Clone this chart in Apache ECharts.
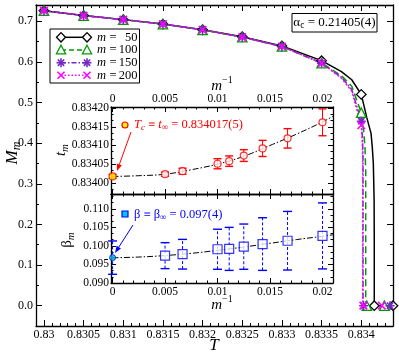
<!DOCTYPE html>
<html>
<head>
<meta charset="utf-8">
<script src="https://cdn.jsdelivr.net/npm/echarts@6/dist/echarts.min.js"></script>
<style>
html, body { margin: 0; padding: 0; background: #fff; }
#chart { width: 399px; height: 353px; }
</style>
</head>
<body>
<div id="chart"></div>
<script>
const FONT = '"Liberation Serif", "DejaVu Serif", serif';
const GREEN = '#009a00';
const PURPLE = '#7428c4';
const MAGENTA = '#ff00ff';

// main panel: M_m(T), marker flags say which points carry a symbol
const T50 = [0.83, 0.8305, 0.831, 0.8315, 0.832, 0.8325, 0.833, 0.8335, 0.83375, 0.83388, 0.834, 0.834068, 0.834123, 0.834139, 0.834152, 0.834162, 0.834164, 0.834164, 0.8344];
const M50 = [0.726, 0.714, 0.704, 0.693, 0.679, 0.662, 0.639, 0.603, 0.576, 0.556, 0.520, 0.464, 0.424, 0.390, 0.350, 0.260, 0.150, 0, 0];
const K50 = [1, 1, 1, 1, 1, 1, 1, 1, 0, 0, 1, 0, 0, 0, 0, 0, 0, 1, 1];

const T100 = [0.83, 0.8305, 0.831, 0.8315, 0.832, 0.8325, 0.833, 0.8335, 0.83375, 0.83388, 0.834, 0.834026, 0.834047, 0.834056, 0.834056, 0.83407, 0.834291, 0.8344];
const M100 = [0.726, 0.714, 0.704, 0.693, 0.679, 0.661, 0.638, 0.597, 0.566, 0.540, 0.475, 0.440, 0.390, 0.330, 0, 0, 0, 0];
const K100 = [1, 1, 1, 1, 1, 1, 1, 1, 0, 0, 1, 0, 0, 0, 0, 1, 1, 0];

const T150 = [0.83, 0.8305, 0.831, 0.8315, 0.832, 0.8325, 0.833, 0.8335, 0.83375, 0.83388, 0.834, 0.834016, 0.834022, 0.834022, 0.83403, 0.834362, 0.8344];
const M150 = [0.726, 0.714, 0.704, 0.693, 0.679, 0.661, 0.638, 0.597, 0.562, 0.532, 0.454, 0.410, 0.360, 0, 0, 0, 0];
const K150 = [1, 1, 1, 1, 1, 1, 1, 1, 0, 0, 1, 0, 0, 0, 1, 1, 0];

const T200 = [0.83, 0.8305, 0.831, 0.8315, 0.832, 0.8325, 0.833, 0.8335, 0.83375, 0.83388, 0.834, 0.834012, 0.834018, 0.834018, 0.834026, 0.834258, 0.8344];
const M200 = [0.726, 0.714, 0.704, 0.693, 0.679, 0.661, 0.638, 0.597, 0.560, 0.528, 0.444, 0.410, 0.360, 0, 0, 0, 0];
const K200 = [1, 1, 1, 1, 1, 1, 1, 1, 0, 0, 1, 0, 0, 0, 1, 1, 0];

// insets: finite-m estimates vs 1/m
const invM = [0.005, 0.006667, 0.01, 0.01111, 0.0125, 0.01429, 0.01667, 0.02];
const tM = [0.834023, 0.834031, 0.834051, 0.834058, 0.834073, 0.834092, 0.834119, 0.834162];
const tErr = [0.0000054, 0.000008, 0.0000135, 0.000014, 0.0000157, 0.0000216, 0.000026, 0.000036];
const tInf = 0.834017, tInfErr = 0.000005;
const betaM = [0.09738, 0.09776, 0.0991, 0.0992, 0.0998, 0.1005, 0.1014, 0.1027];
const betaErr = [0.0035, 0.004, 0.0054, 0.0058, 0.0061, 0.0071, 0.0079, 0.0089];
const betaInf = 0.09684, betaInfErr = 0.0045;
const fitX = [0, 0.0025, 0.005, 0.0075, 0.01, 0.0125, 0.015, 0.0175, 0.02, 0.021];
const fitT = [0.834017, 0.834019, 0.834023, 0.834035, 0.834050, 0.834071, 0.834100, 0.834130, 0.834163, 0.834178];
const fitB = [0.0968, 0.0970, 0.0974, 0.0980, 0.0988, 0.0997, 0.1007, 0.1017, 0.1026, 0.1030];

const near = (v, step) => Math.abs(v / step - Math.round(v / step)) < 1e-6;
const fmtMainX = v => near(v, 0.0005) ? String(+v.toFixed(4)) : '';
const fmtMainY = v => near(v, 0.1) ? v.toFixed(1) : '';
const fmtInv = v => (near(v, 0.005) && v > -1e-9) ? String(+v.toFixed(3)) : '';
const fmtT = v => near(v, 0.00005) ? v.toFixed(5) : '';
const fmtB = v => near(v, 0.005) ? v.toFixed(3) : '';

function mkAxis(o) {
  return {
    type: 'value', gridIndex: o.grid, position: o.pos, min: o.min, max: o.max, splitNumber: o.split,
    axisLine: { show: true, onZero: false, lineStyle: { color: '#000', width: 1.3 } },
    axisTick: { show: true, inside: true, length: o.tick, lineStyle: { color: '#000', width: 1 } },
    minorTick: { show: true, splitNumber: o.minor, length: o.tick / 2, lineStyle: { color: '#000', width: 1 } },
    splitLine: { show: false },
    minorSplitLine: { show: false },
    axisLabel: o.fmt ? { show: true, formatter: o.fmt, margin: o.margin, color: '#000', fontFamily: FONT, fontSize: o.fs } : { show: false }
  };
}

const STAR = 'path://M5 0L5 10M0 5L10 5M1.6 1.6L8.4 8.4M8.4 1.6L1.6 8.4';
const CROSS = 'path://M0 0L10 10M10 0L0 10';

function mainSeries(T, M, K, sym, size, item, line) {
  return {
    type: 'line', xAxisIndex: 0, yAxisIndex: 0, z: 3,
    data: T.map((t, k) => ({ value: [t, M[k]], symbol: K[k] ? sym : 'none' })),
    symbol: sym, symbolSize: size, showSymbol: true,
    itemStyle: item, lineStyle: line
  };
}

function errSeries(xs, ys, es, xi, yi, color, dashed, hw) {
  return {
    type: 'custom', xAxisIndex: xi, yAxisIndex: yi, z: 3,
    data: xs.map((x, k) => [x, ys[k] - es[k], ys[k] + es[k]]),
    renderItem(params, api) {
      const lo = api.coord([api.value(0), api.value(1)]);
      const hi = api.coord([api.value(0), api.value(2)]);
      return {
        type: 'group', children: [
          { type: 'line', shape: { x1: lo[0], y1: lo[1], x2: hi[0], y2: hi[1] }, style: { stroke: color, lineWidth: 1, lineDash: dashed ? [3, 2] : null } },
          { type: 'line', shape: { x1: lo[0] - hw, y1: lo[1], x2: lo[0] + hw, y2: lo[1] }, style: { stroke: color, lineWidth: 1.4 } },
          { type: 'line', shape: { x1: hi[0] - hw, y1: hi[1], x2: hi[0] + hw, y2: hi[1] }, style: { stroke: color, lineWidth: 1.4 } }
        ]
      };
    }
  };
}

// text made of several pieces (sub/superscripts), measured with a canvas
const mctx = document.createElement('canvas').getContext('2d');
const fontOf = p => (p.i ? 'italic ' : '') + p.s + 'px ' + FONT;
function piecesText(x, y, parts, opt) {
  opt = opt || {};
  let w = 0;
  const ws = parts.map(p => { mctx.font = fontOf(p); const m = mctx.measureText(p.t).width; w += m; return m; });
  let cx = opt.left ? 0 : -w / 2;
  const children = parts.map((p, k) => {
    const el = {
      type: 'text', x: cx, y: p.dy || 0, z: 100,
      style: { text: p.t, font: fontOf(p), fill: opt.color || '#000', align: 'left', textAlign: 'left', verticalAlign: 'middle', textVerticalAlign: 'middle' }
    };
    cx += ws[k];
    return el;
  });
  return { type: 'group', x: x, y: y, rotation: opt.rot || 0, z: 100, children: children };
}

function txt(x, y, text, size, opts) {
  opts = opts || {};
  return {
    type: 'text', x: x, y: y, z: 100,
    style: { text: text, font: (opts.italic ? 'italic ' : '') + size + 'px ' + FONT, fill: opts.color || '#000', align: opts.align || 'center', textAlign: opts.align || 'center', verticalAlign: 'middle', textVerticalAlign: 'middle' }
  };
}

function marker(kind, cx, cy, color) {
  const s = { stroke: color, lineWidth: 1.3, fill: '#fff' };
  if (kind === 'diamond') return [{ type: 'polygon', z: 101, shape: { points: [[cx, cy - 4.7], [cx + 4.5, cy], [cx, cy + 4.7], [cx - 4.5, cy]] }, style: s }];
  if (kind === 'triangle') return [{ type: 'polygon', z: 101, shape: { points: [[cx, cy - 4.8], [cx + 4.6, cy + 3.8], [cx - 4.6, cy + 3.8]] }, style: s }];
  const segs = kind === 'star'
    ? [[0, -4.5, 0, 4.5], [-4.5, 0, 4.5, 0], [-3.2, -3.2, 3.2, 3.2], [3.2, -3.2, -3.2, 3.2]]
    : [[-3.5, -3.5, 3.5, 3.5], [3.5, -3.5, -3.5, 3.5]];
  return segs.map(q => ({ type: 'line', z: 101, shape: { x1: cx + q[0], y1: cy + q[1], x2: cx + q[2], y2: cy + q[3] }, style: { stroke: color, lineWidth: 1.6 } }));
}

function arrow(x1, y1, x2, y2, color) {
  const dx = x2 - x1, dy = y2 - y1, L = Math.hypot(dx, dy);
  const ux = dx / L, uy = dy / L, nx = -uy, ny = ux;
  const bx = x2 - 7 * ux, by = y2 - 7 * uy;
  return [
    { type: 'line', z: 100, shape: { x1: x1, y1: y1, x2: bx, y2: by }, style: { stroke: color, lineWidth: 1 } },
    { type: 'polygon', z: 100, shape: { points: [[x2, y2], [bx + 2.6 * nx, by + 2.6 * ny], [bx - 2.6 * nx, by - 2.6 * ny]] }, style: { fill: color } }
  ];
}

const legendRows = [
  { y: 37.3, color: '#000', dash: null, kind: 'diamond', label: '50' },
  { y: 50, color: GREEN, dash: [5, 3], kind: 'triangle', label: '100' },
  { y: 62.7, color: PURPLE, dash: [5, 2, 1.5, 2], kind: 'star', label: '150' },
  { y: 75.3, color: MAGENTA, dash: [1.5, 2], kind: 'cross', label: '200' }
];

const graphics = [];
graphics.push({ type: 'rect', z: 99, shape: { x: 50, y: 29, width: 89.5, height: 54 }, style: { fill: '#fff', stroke: '#000', lineWidth: 1 } });
legendRows.forEach(r => {
  graphics.push({ type: 'line', z: 100, shape: { x1: 61, y1: r.y, x2: 87, y2: r.y }, style: { stroke: r.color, lineWidth: 1.5, lineDash: r.dash } });
  marker(r.kind, 61, r.y, r.color).forEach(e => graphics.push(e));
  marker(r.kind, 87, r.y, r.color).forEach(e => graphics.push(e));
  graphics.push(txt(97, r.y, 'm', 12.5, { italic: true, align: 'left' }));
  graphics.push(txt(113, r.y, '=', 12.5));
  graphics.push(txt(137.5, r.y, r.label, 12.5, { align: 'right' }));
});
graphics.push({ type: 'rect', z: 99, shape: { x: 292, y: 13.5, width: 85, height: 18.5 }, style: { fill: '#fff', stroke: '#000', lineWidth: 1 } });
graphics.push(piecesText(334.5, 22.5, [{ t: 'α', s: 13 }, { t: 'c', s: 9.5, dy: 3 }, { t: ' = 0.21405(4)', s: 13 }]));

// axis titles
graphics.push(piecesText(13, 153, [{ t: 'M', s: 17, i: 1 }, { t: 'm', s: 12, i: 1, dy: 4 }], { rot: Math.PI / 2 }));
graphics.push(txt(214, 346, 'T', 17, { italic: true }));
graphics.push(piecesText(61, 150, [{ t: 't', s: 15, i: 1 }, { t: 'm', s: 11, i: 1, dy: 4 }], { rot: Math.PI / 2 }));
graphics.push(piecesText(67, 240, [{ t: 'β', s: 15 }, { t: 'm', s: 11, i: 1, dy: 4 }], { rot: Math.PI / 2 }));
graphics.push(piecesText(222, 86, [{ t: 'm', s: 15, i: 1 }, { t: '−1', s: 10, dy: -6 }]));
graphics.push(piecesText(222, 305.5, [{ t: 'm', s: 15, i: 1 }, { t: '−1', s: 10, dy: -6 }]));

// inset annotations
graphics.push({ type: 'circle', z: 100, shape: { cx: 125, cy: 125, r: 3 }, style: { fill: '#ffff00', stroke: '#ff0000', lineWidth: 1.2 } });
graphics.push(piecesText(134, 125, [{ t: 'T', s: 12.5, i: 1 }, { t: 'c', s: 9, i: 1, dy: 3 }, { t: ' ≡ ', s: 12.5 }, { t: 't', s: 12.5, i: 1 }, { t: '∞', s: 9, dy: 3 }, { t: ' = 0.834017(5)', s: 12.5 }], { left: true, color: '#ff0000' }));
arrow(131, 132, 117, 171, '#ff0000').forEach(e => graphics.push(e));
graphics.push({ type: 'rect', z: 100, shape: { x: 122, y: 211, width: 6, height: 6 }, style: { fill: '#00c8ff', stroke: '#0000ff', lineWidth: 1.2 } });
graphics.push(piecesText(134, 215, [{ t: 'β', s: 12.5 }, { t: ' ≡ ', s: 12.5 }, { t: 'β', s: 12.5 }, { t: '∞', s: 9, dy: 3 }, { t: ' = 0.097(4)', s: 12.5 }], { left: true, color: '#0000ff' }));
arrow(133, 225, 115, 253, '#0000ff').forEach(e => graphics.push(e));

const option = {
  animation: false,
  backgroundColor: '#fff',
  grid: [
    { left: 36, top: 5, width: 357, height: 321 },
    { left: 111, top: 107, width: 222, height: 87, show: true, backgroundColor: '#fff', borderWidth: 0 },
    { left: 111, top: 194, width: 222, height: 89, show: true, backgroundColor: '#fff', borderWidth: 0 }
  ],
  xAxis: [
    mkAxis({ grid: 0, pos: 'bottom', min: 0.8299, max: 0.8344, split: 9, minor: 5, tick: 6, fmt: fmtMainX, margin: 3, fs: 12 }),
    mkAxis({ grid: 0, pos: 'top', min: 0.8299, max: 0.8344, split: 9, minor: 5, tick: 6 }),
    mkAxis({ grid: 1, pos: 'top', min: -0.00015, max: 0.021, split: 4, minor: 5, tick: 5, fmt: fmtInv, margin: 2, fs: 11.5 }),
    mkAxis({ grid: 1, pos: 'bottom', min: -0.00015, max: 0.021, split: 4, minor: 5, tick: 5 }),
    mkAxis({ grid: 2, pos: 'bottom', min: -0.00015, max: 0.021, split: 4, minor: 5, tick: 5, fmt: fmtInv, margin: 2.5, fs: 11.5 }),
    mkAxis({ grid: 2, pos: 'top', min: -0.00015, max: 0.021, split: 4, minor: 5, tick: 5 })
  ],
  yAxis: [
    mkAxis({ grid: 0, pos: 'left', min: -0.05, max: 0.74, split: 8, minor: 2, tick: 6, fmt: fmtMainY, margin: 3, fs: 12 }),
    mkAxis({ grid: 0, pos: 'right', min: -0.05, max: 0.74, split: 8, minor: 2, tick: 6 }),
    mkAxis({ grid: 1, pos: 'left', min: 0.83397, max: 0.834203, split: 5, minor: 3, tick: 5, fmt: fmtT, margin: 2, fs: 11.5 }),
    mkAxis({ grid: 1, pos: 'right', min: 0.83397, max: 0.834203, split: 5, minor: 3, tick: 5 }),
    mkAxis({ grid: 2, pos: 'left', min: 0.09, max: 0.114, split: 5, minor: 3, tick: 5, fmt: fmtB, margin: 2, fs: 11.5 }),
    mkAxis({ grid: 2, pos: 'right', min: 0.09, max: 0.114, split: 5, minor: 3, tick: 5 })
  ],
  series: [
    mainSeries(T50, M50, K50, 'diamond', 9.5, { color: '#fff', borderColor: '#000', borderWidth: 1.3 }, { color: '#000', width: 1.5 }),
    mainSeries(T100, M100, K100, 'triangle', 9.5, { color: '#fff', borderColor: GREEN, borderWidth: 1.3 }, { color: GREEN, width: 1.5, type: [7, 4] }),
    mainSeries(T150, M150, K150, STAR, 9, { color: PURPLE, borderColor: PURPLE, borderWidth: 1.6 }, { color: PURPLE, width: 1.5, type: [6, 2, 1.5, 2] }),
    mainSeries(T200, M200, K200, CROSS, 7.5, { color: MAGENTA, borderColor: MAGENTA, borderWidth: 1.6 }, { color: MAGENTA, width: 1.5, type: [2, 2] }),

    { type: 'line', xAxisIndex: 2, yAxisIndex: 2, z: 2, smooth: 0.4, symbol: 'none',
      data: fitX.map((x, k) => [x, fitT[k]]), lineStyle: { color: '#000', width: 1, type: [6, 2, 1.5, 2] } },
    errSeries([0].concat(invM), [tInf].concat(tM), [tInfErr].concat(tErr), 2, 2, '#ff0000', false, 4),
    { type: 'scatter', xAxisIndex: 2, yAxisIndex: 2, z: 4, symbol: 'circle', symbolSize: 7,
      data: invM.map((x, k) => [x, tM[k]]), itemStyle: { color: '#fff', borderColor: '#ff0000', borderWidth: 1.2 } },
    { type: 'scatter', xAxisIndex: 2, yAxisIndex: 2, z: 4, symbol: 'circle', symbolSize: 7,
      data: [[0, tInf]], itemStyle: { color: '#ffff00', borderColor: '#ff0000', borderWidth: 1.2 } },

    { type: 'line', xAxisIndex: 4, yAxisIndex: 4, z: 2, smooth: 0.4, symbol: 'none',
      data: fitX.map((x, k) => [x, fitB[k]]), lineStyle: { color: '#000', width: 1, type: [6, 2, 1.5, 2] } },
    errSeries([0].concat(invM), [betaInf].concat(betaM), [betaInfErr].concat(betaErr), 4, 4, '#0000ff', true, 4.5),
    { type: 'scatter', xAxisIndex: 4, yAxisIndex: 4, z: 4, symbol: 'rect', symbolSize: 9,
      data: invM.map((x, k) => [x, betaM[k]]), itemStyle: { color: '#fff', borderColor: '#0000ff', borderWidth: 1.2 } },
    { type: 'scatter', xAxisIndex: 4, yAxisIndex: 4, z: 4, symbol: 'circle', symbolSize: 6,
      data: [[0, betaInf]], itemStyle: { color: '#00c8c8', borderColor: '#0000ff', borderWidth: 1 } }
  ],
  graphic: { elements: graphics }
};

const chart = echarts.init(document.getElementById('chart'));
chart.setOption(option);
</script>
</body>
</html>
